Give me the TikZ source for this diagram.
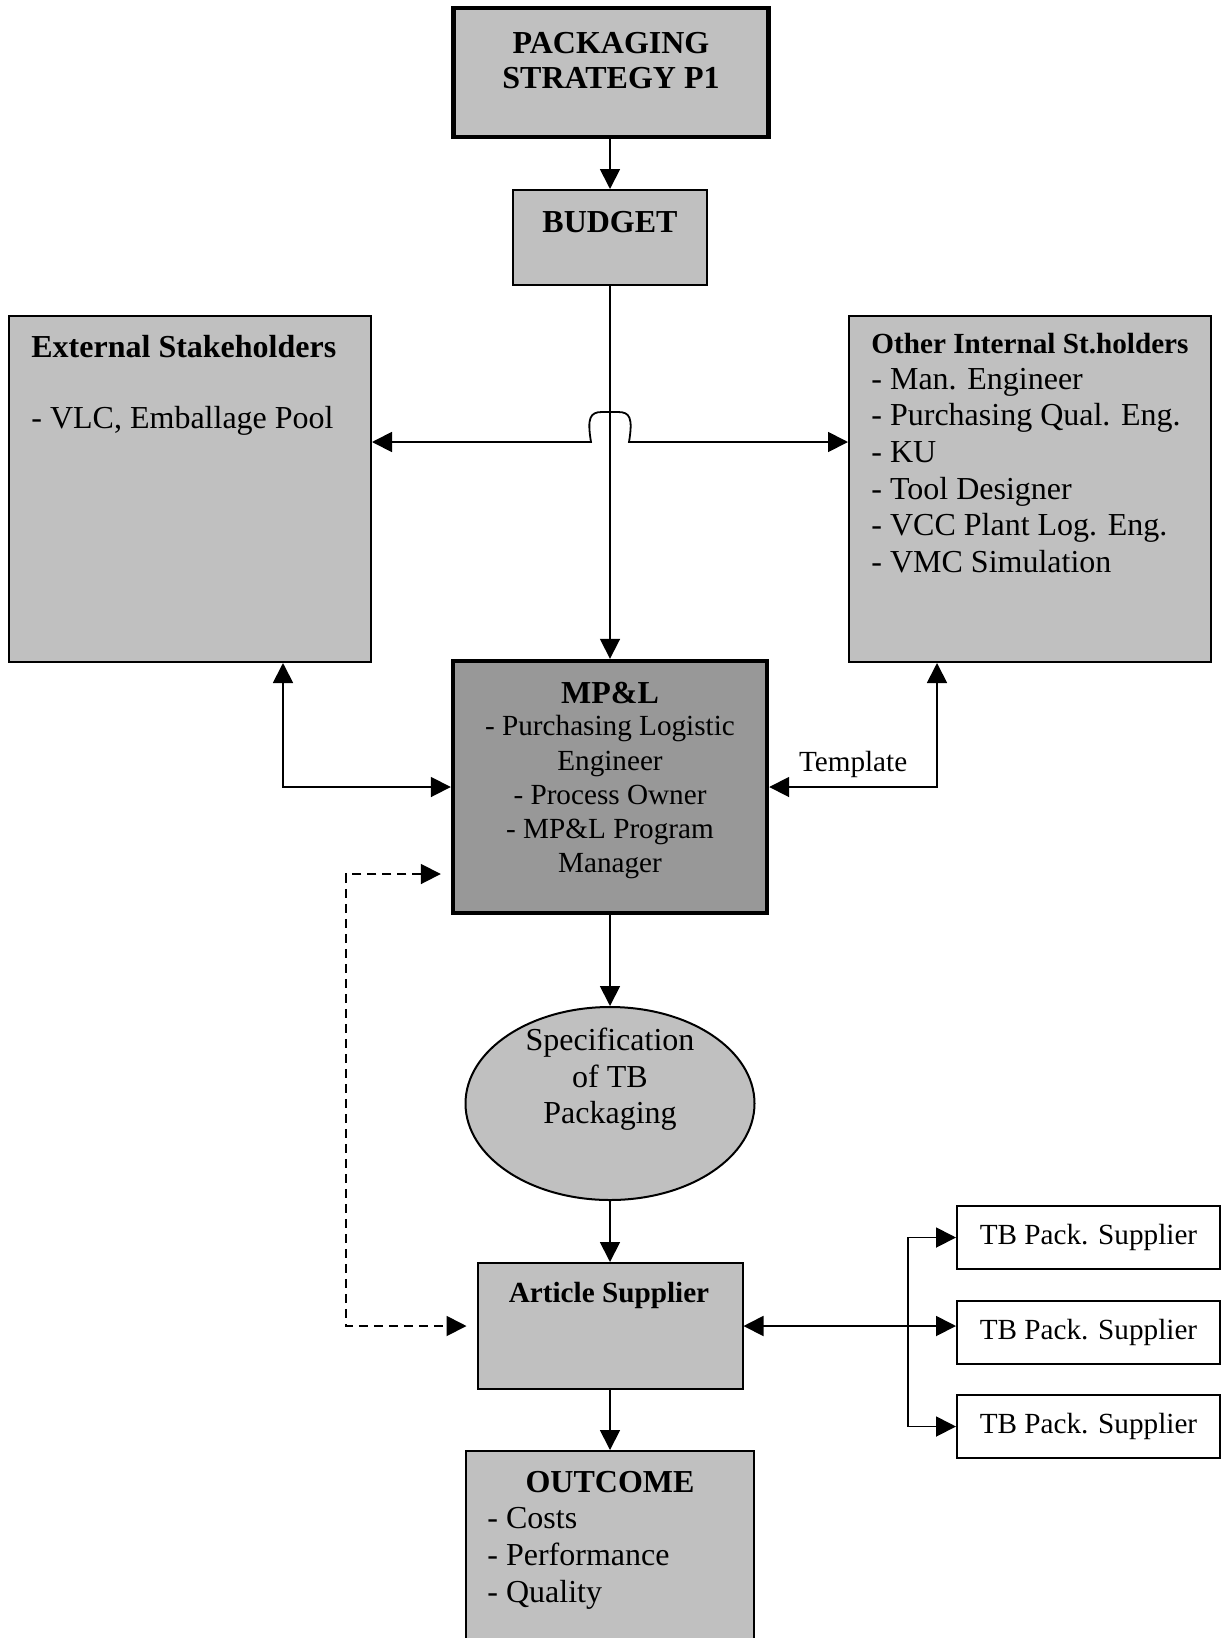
\documentclass[tikz,border=0pt]{standalone}
\usepackage{fontspec}
\setmainfont{Liberation Serif}
\usetikzlibrary{arrows.meta,shapes.geometric}
\definecolor{boxfill}{RGB}{192,192,192}
\definecolor{corefill}{RGB}{152,152,152}
\begin{document}
\begin{tikzpicture}[x=0.5pt,y=-0.5pt,
  >={Triangle[length=10pt,width=10pt]},
  box/.style={draw, fill=boxfill, line width=1pt, rectangle, inner sep=0pt},
  heavy/.style={line width=2.2pt},
  link/.style={line width=0.9pt},
  big/.style={inner sep=0pt, anchor=base, font=\fontsize{16}{19}\selectfont},
  small/.style={inner sep=0pt, anchor=base, font=\fontsize{14.6}{17}\selectfont},
  bigb/.style={big, font=\fontsize{16}{19}\selectfont\bfseries},
  smallb/.style={small, font=\fontsize{14.6}{17}\selectfont\bfseries},
  tbbox/.style={draw, fill=white, line width=1pt, rectangle, inner sep=0pt,
    minimum width=131.5pt, minimum height=31.5pt, font=\fontsize{14.6}{17}\selectfont}
]
\useasboundingbox (0,0) rectangle (1221,1638);
\clip (0,0) rectangle (1221,1638);

% boxes
\node[box, heavy, minimum width=157.5pt, minimum height=64.5pt] (pkg) at (611,72.5) {};
\node[box, minimum width=97pt, minimum height=47.5pt] (bud) at (610,237.5) {};
\node[box, minimum width=181pt, minimum height=173pt] (ext) at (190,489) {};
\node[box, minimum width=181pt, minimum height=173pt] (oth) at (1030,489) {};
\node[box, heavy, fill=corefill, minimum width=157pt, minimum height=126pt] (mpl) at (610,787) {};
\node[draw, fill=boxfill, line width=1pt, ellipse, inner sep=0pt,
      minimum width=144.5pt, minimum height=96.5pt] (spec) at (610,1103.5) {};
\node[box, minimum width=132.5pt, minimum height=63pt] (art) at (610,1326) {};
\node[box, minimum width=144pt, minimum height=104.5pt] (out) at (610,1555.5) {};
\node[tbbox] (tb1) at (1088.5,1237.5) {TB Pack. Supplier};
\node[tbbox] (tb2) at (1088.5,1332) {TB Pack. Supplier};
\node[tbbox] (tb3) at (1088.5,1426.5) {TB Pack. Supplier};

% box texts
\node[bigb] (pkgA) at (611,53) {PACKAGING};
\node[bigb] (pkgB) at (611,88) {STRATEGY P1};
\node[bigb] (budT) at (610,232) {BUDGET};
\node[bigb, anchor=base west] (extA) at (31,357) {External Stakeholders};
\node[big, anchor=base west] (extB) at (31,428) {- VLC, Emballage Pool};
\node[smallb, anchor=base west] (othA) at (871,353) {Other Internal St.holders};
\foreach \t [count=\k from 0] in {- Man. Engineer, - Purchasing Qual. Eng., - KU,
    - Tool Designer, - VCC Plant Log. Eng., - VMC Simulation}
  \node[big, anchor=base west] (oth\k) at (871,389+36.7*\k) {\t};
\node[bigb] (mplA) at (610,703) {MP\&L};
\node[small] (mplB) at (610,735) {- Purchasing Logistic};
\node[small] (mplC) at (610,770) {Engineer};
\node[small] (mplD) at (610,804) {- Process Owner};
\node[small] (mplE) at (610,838) {- MP\&L Program};
\node[small] (mplF) at (610,872) {Manager};
\node[big] (specA) at (610,1050) {Specification};
\node[big] (specB) at (610,1087) {of TB};
\node[big] (specC) at (610,1123) {Packaging};
\node[smallb] (artT) at (609,1302) {Article Supplier};
\node[bigb] (outA) at (610,1492) {OUTCOME};
\node[big, anchor=base west] (outB) at (487,1528) {- Costs};
\node[big, anchor=base west] (outC) at (487,1565) {- Performance};
\node[big, anchor=base west] (outD) at (487,1602) {- Quality};

% helper coordinates for connector routes
\coordinate (hy) at (0,442);
\coordinate (ecol) at (283,0);
\coordinate (tcol) at (937,0);
\coordinate (dy) at (0,874);
\coordinate (dcol) at (346,0);
\coordinate (br) at (908,1326);

% main flow
\draw[link,->] (pkg.south -| bud.north) -- (bud.north);
\draw[link,->] (bud.south) -- (mpl.north);
\draw[link,->] (mpl.south) -- (spec.north);
\draw[link,->] (spec.south) -- (art.north);
\draw[link,->] (art.south) -- (out.north);

% stakeholder line hopping over the budget line
\draw[link,<->] (ext.east |- hy) -- (591,442)
  .. controls (587,418) and (590,412) .. (602,412) -- (618,412)
  .. controls (630,412) and (633,418) .. (629,442) -- (oth.west |- hy);

% links to the MP&L box
\draw[link,<->] (ext.south -| ecol) |- (mpl.west);
\draw[link,<->] (oth.south -| tcol) |- (mpl.east)
  node[small, pos=0.75, anchor=base, yshift=8pt] (tmpl) {Template};
\draw[link,dashed,dash pattern=on 4.5pt off 3pt,<->,shorten <=5pt,shorten >=5pt]
  (mpl.west |- dy) -| (dcol |- art.west) -- (art.west);

% packaging suppliers
\draw[link,<->] (art.east) -- (art.east -| tb2.west);
\draw[link,->] (br) |- (tb1.west);
\draw[link,->] (br) |- (tb3.west);
\end{tikzpicture}
\end{document}
